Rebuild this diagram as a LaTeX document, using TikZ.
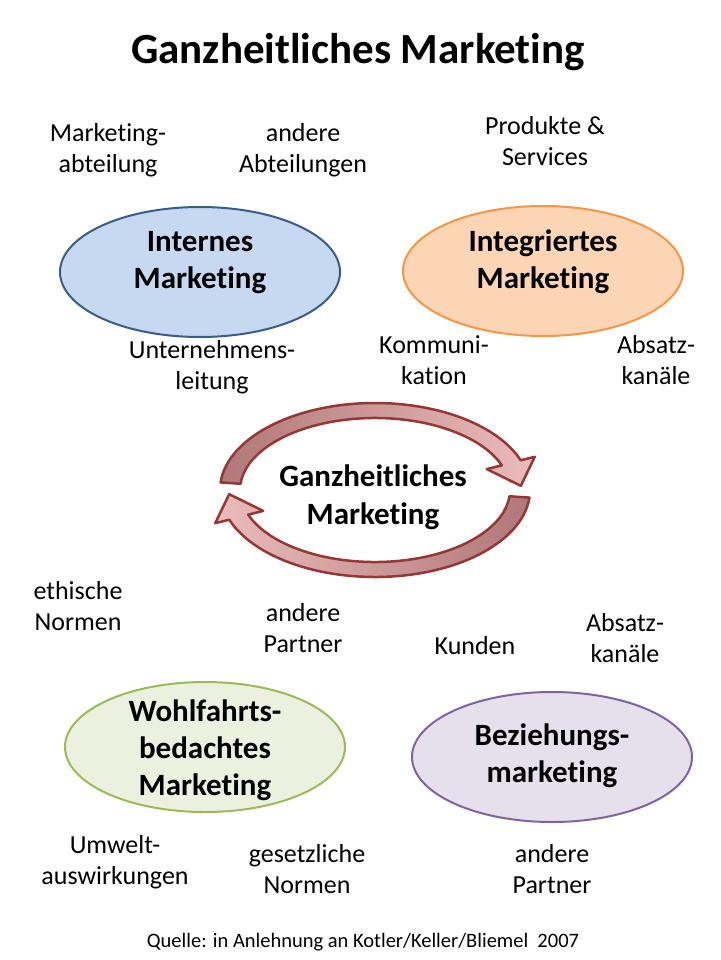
\documentclass[tikz,border=0pt]{standalone}
\usepackage{fontspec}
\setmainfont{Carlito}
\usetikzlibrary{shapes.geometric}

\definecolor{blaufill}{RGB}{198,217,241}
\definecolor{blaurand}{RGB}{56,93,138}
\definecolor{orangefill}{RGB}{252,213,181}
\definecolor{orangerand}{RGB}{247,150,70}
\definecolor{gruenfill}{RGB}{235,241,222}
\definecolor{gruenrand}{RGB}{155,187,89}
\definecolor{lilafill}{RGB}{229,224,236}
\definecolor{lilarand}{RGB}{128,100,162}
\definecolor{pfeilrand}{RGB}{149,55,53}
\definecolor{pfeildunkel}{RGB}{176,120,120}
\definecolor{pfeilhell}{RGB}{234,188,187}

% keine ti-Ligatur
\newcommand{\noti}{t\kern0pt i}

\begin{document}
\begin{tikzpicture}[x=1pt,y=-1pt,
  feld/.style={ellipse, line width=2pt, minimum width=280pt, minimum height=130pt},
  feldtext/.style={align=center, inner sep=0pt, font=\fontsize{31}{37}\selectfont\bfseries},
  lab/.style={align=center, inner sep=0pt, font=\fontsize{26}{31}\selectfont},
  pfeil/.style={line width=2.5pt, draw=pfeilrand, line join=round}]
\useasboundingbox[fill=white] (0,0) rectangle (720,960);

%% Titel
\node[font=\fontsize{43}{50}\selectfont\bfseries] (titel) at (358,52) {Ganzheitliches Marke\noti ng};

%% Ellipsen
\node[feld, fill=blaufill, draw=blaurand] (intern) at (200,272) {};
\node[feldtext] (intern-t) at ([yshift=9pt]intern.center) {Internes\\Marke\noti ng};
\node[feld, fill=orangefill, draw=orangerand] (integ) at (543,271) {};
\node[feldtext] (integ-t) at ([yshift=9pt]integ.center) {Integriertes\\Marke\noti ng};
\node[feld, fill=gruenfill, draw=gruenrand] (wohl) at (205,747) {};
\node[feldtext] (wohl-t) at ([yshift=-3pt]wohl.center) {Wohlfahrts-\\bedachtes\\Marke\noti ng};
\node[feld, fill=lilafill, draw=lilarand] (bez) at (552,757) {};
\node[feldtext] (bez-t) at ([yshift=1pt]bez.center) {Beziehungs-\\marke\noti ng};

%% Beschriftungen oben
\node[lab] (mabt) at (108,150) {Marke\noti ng-\\abteilung};
\node[lab] (aabt) at (303,150) {andere\\Abteilungen};
\node[lab] (prod) at (545,141) {Produkte \&\\Services};
\node[lab] (ufl) at (212,367) {Unternehmens-\\leitung};
\node[lab] (komm) at (434,360) {Kommuni-\\ka\noti on};
\node[lab] (absa) at (656,360) {Absatz-\\kanäle};

%% Beschriftungen unten
\node[lab] (ethn) at (78,606) {ethische\\Normen};
\node[lab] (apa) at (303,628) {andere\\Partner};
\node[lab] (kund) at (475,646) {Kunden};
\node[lab] (absb) at (625,638) {Absatz-\\kanäle};
\node[lab] (umw) at (115,862) {Umwelt-\\auswirkungen};
\node[lab] (gesn) at (307,869) {gesetzliche\\Normen};
\node[lab] (apb) at (552,869) {andere\\Partner};

%% Kreislauf
\begin{scope}[shift={(375,490)}]
\shadedraw[pfeil, left color=pfeildunkel, right color=pfeilhell]
  (185:155 and 87) arc[start angle=185, end angle=340, x radius=155, y radius=87]
  -- (340:170 and 97) -- (357:146 and 80) -- (340:119 and 61) -- (340:135 and 72)
  arc[start angle=340, end angle=185, x radius=135, y radius=72] -- cycle;
\shadedraw[pfeil, right color=pfeildunkel, left color=pfeilhell]
  (5:155 and 87) arc[start angle=5, end angle=160, x radius=155, y radius=87]
  -- (160:170 and 97) -- (177:146 and 80) -- (160:119 and 61) -- (160:135 and 72)
  arc[start angle=160, end angle=5, x radius=135, y radius=72] -- cycle;
\end{scope}
\node[font=\fontsize{31}{38}\selectfont\bfseries, align=center] (mitte) at (373,497) {Ganzheitliches\\Marke\noti ng};

%% Quelle
\node[font=\fontsize{20.5}{24}\selectfont] (quelle) at (363,942) {Quelle: in Anlehnung an Kotler/Keller/Bliemel\ \ 2007};

\end{tikzpicture}
\end{document}
